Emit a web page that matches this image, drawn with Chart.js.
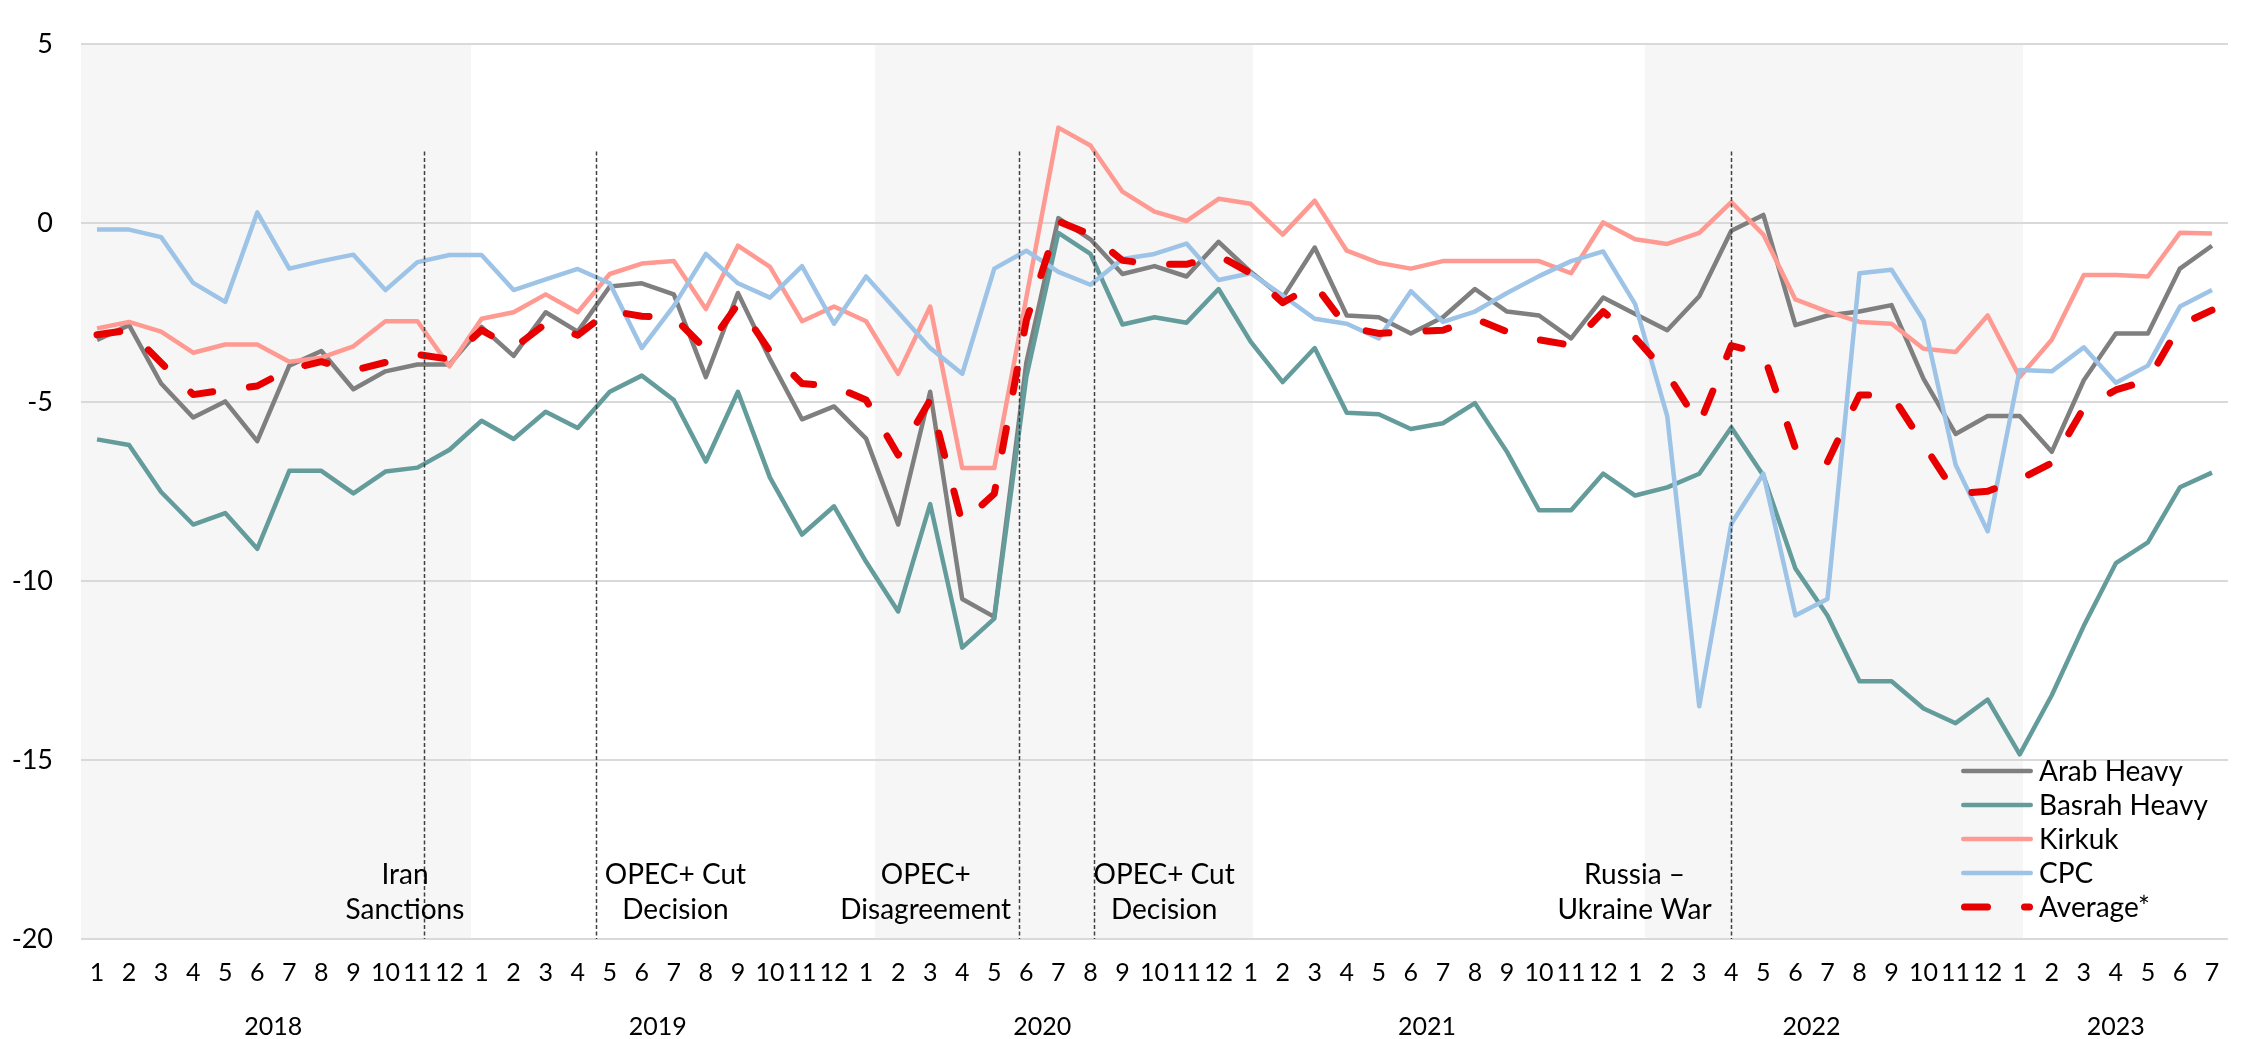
<!DOCTYPE html>
<html>
<head>
<meta charset="utf-8">
<title>Crude differentials</title>
<script src="https://cdn.jsdelivr.net/npm/chart.js@4.4.0/dist/chart.umd.min.js"></script>
<style>
  html, body { margin: 0; padding: 0; background: #fff; }
  #wrap { width: 2242px; height: 1039px; position: relative; }
</style>
</head>
<body>
<div id="wrap"><canvas id="diffChart"></canvas></div>
<script>
// categories: month numbers, grouped by year
const years = [2018, 2019, 2020, 2021, 2022, 2023];
const monthsInYear = [12, 12, 12, 12, 12, 7];
const monthLabels = [];
years.forEach((y, k) => {
  for (let m = 1; m <= monthsInYear[k]; m++) monthLabels.push(String(m));
});
const yearCenters = [5.5, 17.5, 29.5, 41.5, 53.5, 63];

const yTicks = [5, 0, -5, -10, -15, -20];

const arabHeavy = [
  -3.26, -2.85, -4.48, -5.43, -4.98, -6.09, -3.98, -3.57, -4.64, -4.14, -3.95, -3.95,
  -2.90, -3.71, -2.49, -3.03, -1.77, -1.68, -1.99, -4.30, -1.95, -3.80, -5.48, -5.12,
  -6.02, -8.42, -4.71, -10.50, -11.00, -3.90, 0.14, -0.45, -1.42, -1.20, -1.49, -0.52,
  -1.36, -2.08, -0.68, -2.58, -2.63, -3.08, -2.63, -1.84, -2.47, -2.58, -3.22, -2.08,
  -2.54, -2.99, -2.04, -0.21, 0.23, -2.85, -2.58, -2.47, -2.29, -4.35, -5.89, -5.39,
  -5.39, -6.39, -4.39, -3.08, -3.08, -1.27, -0.63
];
const basrahHeavy = [
  -6.04, -6.20, -7.51, -8.42, -8.10, -9.10, -6.92, -6.92, -7.55, -6.94, -6.83, -6.33,
  -5.52, -6.03, -5.27, -5.72, -4.71, -4.26, -4.94, -6.66, -4.71, -7.11, -8.70, -7.91,
  -9.46, -10.85, -7.85, -11.86, -11.05, -4.30, -0.27, -0.86, -2.83, -2.63, -2.78, -1.84,
  -3.31, -4.44, -3.49, -5.30, -5.34, -5.75, -5.59, -5.03, -6.39, -8.02, -8.02, -7.00,
  -7.61, -7.38, -7.00, -5.71, -7.05, -9.65, -10.96, -12.80, -12.80, -13.56, -13.97, -13.31,
  -14.84, -13.19, -11.25, -9.50, -8.92, -7.38, -6.97
];
const kirkuk = [
  -2.94, -2.76, -3.03, -3.62, -3.39, -3.39, -3.87, -3.76, -3.44, -2.74, -2.74, -4.00,
  -2.67, -2.49, -1.99, -2.49, -1.42, -1.13, -1.06, -2.40, -0.63, -1.22, -2.74, -2.33,
  -2.74, -4.21, -2.33, -6.84, -6.84, -2.08, 2.67, 2.17, 0.88, 0.32, 0.06, 0.68,
  0.54, -0.32, 0.63, -0.77, -1.11, -1.27, -1.06, -1.06, -1.06, -1.06, -1.40, 0.02,
  -0.45, -0.58, -0.27, 0.59, -0.32, -2.13, -2.47, -2.76, -2.81, -3.51, -3.60, -2.58,
  -4.30, -3.26, -1.45, -1.45, -1.49, -0.27, -0.29
];
const cpc = [
  -0.18, -0.18, -0.39, -1.67, -2.20, 0.30, -1.27, -1.06, -0.88, -1.87, -1.09, -0.89,
  -0.89, -1.87, -1.57, -1.28, -1.68, -3.49, -2.31, -0.86, -1.68, -2.08, -1.20, -2.81,
  -1.49, -2.49, -3.49, -4.21, -1.27, -0.77, -1.36, -1.72, -1.00, -0.86, -0.57, -1.59,
  -1.40, -2.02, -2.67, -2.81, -3.22, -1.90, -2.76, -2.47, -1.95, -1.48, -1.06, -0.79,
  -2.26, -5.39, -13.50, -8.40, -7.00, -10.96, -10.50, -1.40, -1.30, -2.72, -6.75, -8.61,
  -4.10, -4.14, -3.47, -4.46, -3.98, -2.33, -1.87
];
const average = [
  -3.12, -2.99, -3.90, -4.79, -4.66, -4.55, -4.08, -3.87, -4.12, -3.89, -3.67, -3.80,
  -2.99, -3.49, -2.81, -3.13, -2.45, -2.60, -2.63, -3.53, -2.26, -3.58, -4.48, -4.56,
  -4.94, -6.48, -4.94, -8.38, -7.56, -2.72, 0.05, -0.32, -1.04, -1.15, -1.15, -0.90,
  -1.40, -2.22, -1.72, -2.90, -3.08, -3.03, -2.99, -2.67, -3.03, -3.26, -3.41, -2.47,
  -3.20, -4.21, -5.62, -3.42, -3.65, -6.29, -6.67, -4.80, -4.80, -6.18, -7.56, -7.49,
  -7.16, -6.70, -5.16, -4.66, -4.39, -2.85, -2.43
];

// shaded years, in month-index units
const shadedSpans = [[-0.5, 11.67], [24.28, 36.07], [48.3, 60.1]];
// event markers (month index) and their captions
const eventAt = [10.19, 15.58, 28.77, 31.1, 51.0];
const eventText = [
  ["Iran", "Sanctions"],
  ["OPEC+ Cut", "Decision"],
  ["OPEC+", "Disagreement"],
  ["OPEC+ Cut", "Decision"],
  ["Russia \u2013", "Ukraine War"]
];
const eventTextAt = [9.61, 18.05, 25.86, 33.3, 47.98];

const FONT = "Lato, 'Open Sans', sans-serif";

const yearShade = {
  id: "yearShade",
  beforeDraw(chart) {
    const { ctx, chartArea: a, scales: { x } } = chart;
    ctx.save();
    ctx.fillStyle = "#F6F6F6";
    shadedSpans.forEach(([from, to]) => {
      const x0 = Math.max(a.left, x.getPixelForValue(from));
      const x1 = Math.min(a.right, x.getPixelForValue(to));
      ctx.fillRect(x0, a.top, x1 - x0, a.bottom - a.top);
    });
    ctx.restore();
  }
};

const eventMarks = {
  id: "eventMarks",
  afterDatasetsDraw(chart) {
    const { ctx, chartArea: a, scales: { x, y } } = chart;
    ctx.save();
    ctx.strokeStyle = "#404040";
    ctx.lineWidth = 1.5;
    ctx.setLineDash([4, 2.5]);
    eventAt.forEach((v) => {
      const px = Math.round(x.getPixelForValue(v)) + 0.5;
      ctx.beginPath();
      ctx.moveTo(px, y.getPixelForValue(2));
      ctx.lineTo(px, a.bottom);
      ctx.stroke();
    });
    ctx.setLineDash([]);
    ctx.fillStyle = "#000";
    ctx.font = "28px " + FONT;
    ctx.textAlign = "center";
    ctx.textBaseline = "middle";
    eventText.forEach((lines, k) => {
      const px = x.getPixelForValue(eventTextAt[k]);
      ctx.fillText(lines[0], px, y.getPixelForValue(-18.2));
      ctx.fillText(lines[1], px, y.getPixelForValue(-19.2));
    });
    ctx.restore();
  }
};

const sideLegend = {
  id: "sideLegend",
  afterDraw(chart) {
    const { ctx, chartArea: a } = chart;
    const rows = [168, 134, 100, 66, 32];
    ctx.save();
    ctx.font = "28px " + FONT;
    ctx.textBaseline = "middle";
    ctx.textAlign = "left";
    chart.data.datasets.forEach((ds, k) => {
      const cy = a.bottom - rows[k];
      ctx.strokeStyle = ds.borderColor;
      ctx.lineWidth = ds.borderWidth;
      ctx.lineCap = "round";
      ctx.setLineDash(ds.borderDash || []);
      ctx.beginPath();
      const inset = ds.borderWidth / 2;
      ctx.moveTo(a.right - 267 + inset, cy);
      ctx.lineTo(a.right - 195 - inset, cy);
      ctx.stroke();
      ctx.setLineDash([]);
      ctx.fillStyle = "#000";
      ctx.fillText(ds.label, a.right - 189, cy + 1);
    });
    ctx.restore();
  }
};

function series(label, data, color, width, order, dash) {
  return {
    label, data, order,
    borderColor: color,
    backgroundColor: color,
    borderWidth: width,
    borderDash: dash || [],
    borderCapStyle: dash ? "round" : "butt",
    borderJoinStyle: "round",
    pointRadius: 0,
    pointHoverRadius: 0,
    tension: 0,
    fill: false
  };
}

function build() {
  new Chart(document.getElementById("diffChart"), {
    type: "line",
    data: {
      labels: monthLabels,
      datasets: [
        series("Arab Heavy", arabHeavy, "#7F7F7F", 4.5, 5),
        series("Basrah Heavy", basrahHeavy, "#639C9B", 4.5, 4),
        series("Kirkuk", kirkuk, "#FF9A92", 4.5, 3),
        series("CPC", cpc, "#9DC3E6", 4.5, 2),
        series("Average*", average, "#E80000", 7, 1, [23, 37])
      ]
    },
    options: {
      responsive: true,
      maintainAspectRatio: false,
      animation: false,
      devicePixelRatio: 1,
      layout: { padding: { top: 18, right: 14, bottom: 0, left: 0 } },
      scales: {
        x: {
          type: "category",
          offset: true,
          grid: { display: false, drawTicks: false },
          border: { display: false },
          ticks: {
            color: "#000",
            font: { family: FONT, size: 25 },
            padding: 19,
            maxRotation: 0,
            autoSkip: false
          },
          afterFit: (s) => { s.height = 62; }
        },
        x2: {
          type: "linear",
          position: "bottom",
          weight: 1,
          bounds: "data",
          min: -0.5,
          max: 66.5,
          grid: { display: false, drawTicks: false },
          border: { display: false },
          afterBuildTicks: (s) => { s.ticks = yearCenters.map((v) => ({ value: v })); },
          ticks: {
            color: "#000",
            font: { family: FONT, size: 25 },
            padding: 11,
            maxRotation: 0,
            autoSkip: false,
            callback: (v, i) => String(years[i])
          },
          afterFit: (s) => { s.height = 38; }
        },
        y: {
          min: -20,
          max: 5,
          afterBuildTicks: (s) => { s.ticks = yTicks.map((v) => ({ value: v })); },
          grid: { color: "#D9D9D9", lineWidth: 2, drawTicks: false },
          border: { display: false },
          ticks: {
            color: "#000",
            font: { family: FONT, size: 27 },
            padding: 28,
            callback: (v) => String(v)
          },
          afterFit: (s) => { s.width = 81; }
        }
      },
      plugins: {
        legend: { display: false },
        tooltip: { enabled: false }
      }
    },
    plugins: [yearShade, eventMarks, sideLegend]
  });
}

if (document.fonts && document.fonts.load) {
  document.fonts.load("25px Lato").then(build, build);
} else {
  build();
}
</script>
</body>
</html>
